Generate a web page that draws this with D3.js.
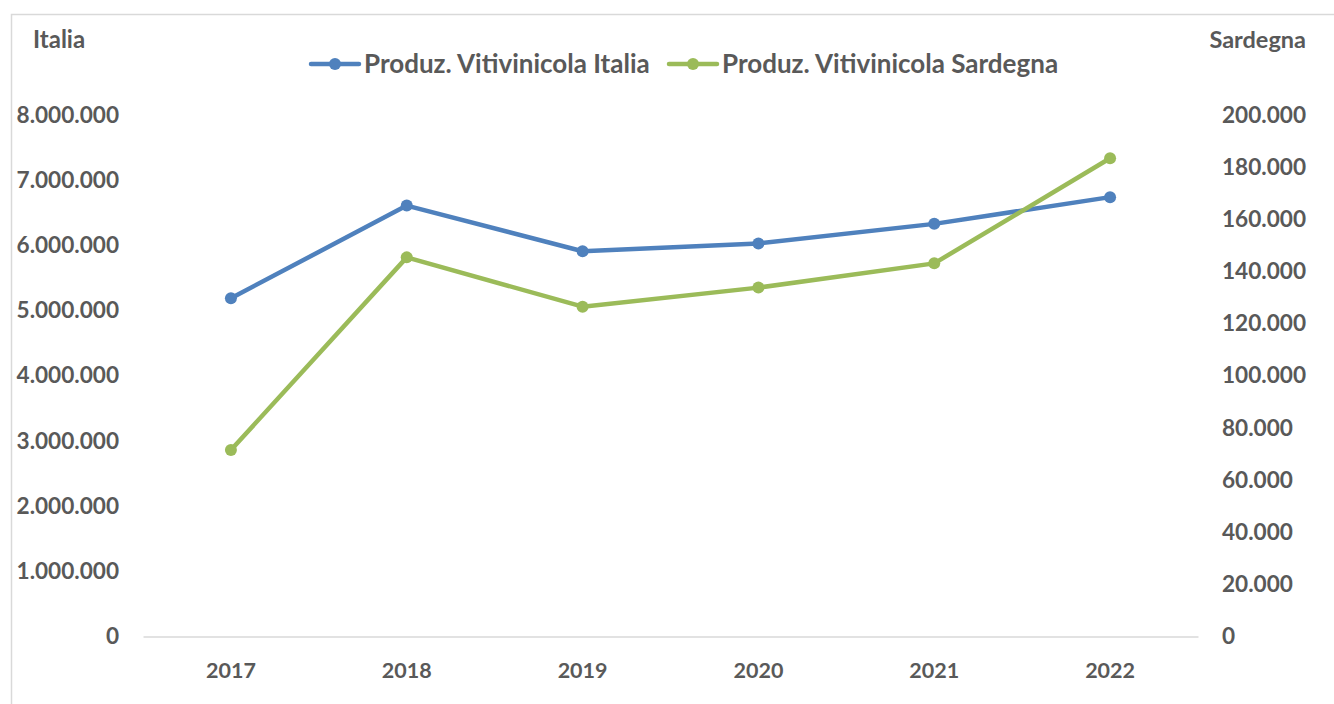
<!DOCTYPE html>
<html>
<head>
<meta charset="utf-8">
<script src="https://cdn.jsdelivr.net/npm/d3@7"></script>
<style>
  html, body { margin: 0; padding: 0; background: #fff; }
  svg { display: block; }
  text { font-family: Lato, "Open Sans", sans-serif; font-weight: bold; fill: #595959; }
</style>
</head>
<body>
<svg id="chart" width="1334" height="704"></svg>
<script>
// Production data by year
const years = ["2017", "2018", "2019", "2020", "2021", "2022"];
const italia = [5190000, 6610000, 5910000, 6030000, 6330000, 6740000];
const sardegna = [71500, 145400, 126500, 133800, 143100, 183400];
const leftTicks = [0, 1000000, 2000000, 3000000, 4000000, 5000000, 6000000, 7000000, 8000000];
const rightTicks = [0, 20000, 40000, 60000, 80000, 100000, 120000, 140000, 160000, 180000, 200000];
const seriesNames = ["Produz. Vitivinicola Italia", "Produz. Vitivinicola Sardegna"];
const colors = ["#4F81BD", "#9BBB59"];

const it = d3.formatLocale({ decimal: ",", thousands: ".", grouping: [3], currency: ["€", ""] });
const fmt = it.format(",d");

const svg = d3.select("#chart");

// chart area frame
svg.append("rect")
  .attr("x", 11.5).attr("y", 14.5)
  .attr("width", 1400).attr("height", 800)
  .attr("fill", "none").attr("stroke", "#d9d9d9").attr("stroke-width", 1.5);

const plot = { left: 143, right: 1198, top: 115, bottom: 636.5 };

const x = d3.scaleBand().domain(years).range([plot.left, plot.right]);
const yL = d3.scaleLinear().domain([0, 8000000]).range([plot.bottom, plot.top]);
const yR = d3.scaleLinear().domain([0, 200000]).range([plot.bottom, plot.top]);
const cx = d => x(d) + x.bandwidth() / 2;

function styleLabels(g, size) {
  g.selectAll("text").attr("font-size", size).attr("fill", "#595959")
    .style("font-family", "Lato").style("font-weight", "bold");
}

// category axis
const xAxis = svg.append("g")
  .attr("transform", `translate(0,${plot.bottom})`)
  .call(d3.axisBottom(x).tickSize(0).tickPadding(26));
xAxis.select(".domain").attr("stroke", "#d9d9d9").attr("stroke-width", 1.5);
styleLabels(xAxis, 21.5);

// left value axis (Italia)
const lAxis = svg.append("g")
  .attr("transform", "translate(119,0)")
  .call(d3.axisLeft(yL).tickValues(leftTicks).tickFormat(fmt).tickSize(0).tickPadding(0));
lAxis.select(".domain").remove();
styleLabels(lAxis, 22.6);

// right value axis (Sardegna)
const rAxis = svg.append("g")
  .attr("transform", "translate(1222,0)")
  .call(d3.axisRight(yR).tickValues(rightTicks).tickFormat(fmt).tickSize(0).tickPadding(0));
rAxis.select(".domain").remove();
styleLabels(rAxis, 22.6);

// axis titles
svg.append("text").attr("x", 33).attr("y", 48).attr("font-size", 24).text("Italia");
svg.append("text").attr("x", 1306).attr("y", 48).attr("font-size", 23.5)
  .attr("text-anchor", "end").text("Sardegna");

// series
const series = [
  { name: seriesNames[0], values: italia, scale: yL, color: colors[0] },
  { name: seriesNames[1], values: sardegna, scale: yR, color: colors[1] }
];

series.forEach(s => {
  const line = d3.line().x((d, i) => cx(years[i])).y(d => s.scale(d));
  svg.append("path")
    .datum(s.values)
    .attr("d", line)
    .attr("fill", "none")
    .attr("stroke", s.color)
    .attr("stroke-width", 4.5)
    .attr("stroke-linejoin", "round");
  svg.append("g").selectAll("circle")
    .data(s.values)
    .join("circle")
    .attr("cx", (d, i) => cx(years[i]))
    .attr("cy", d => s.scale(d))
    .attr("r", 6)
    .attr("fill", s.color);
});

// legend
const legendItems = [
  { x0: 311, name: seriesNames[0], color: colors[0] },
  { x0: 669, name: seriesNames[1], color: colors[1] }
];
const lg = svg.append("g").attr("transform", "translate(0,64)");
legendItems.forEach(it => {
  lg.append("line").attr("x1", it.x0).attr("x2", it.x0 + 48).attr("y1", 0).attr("y2", 0)
    .attr("stroke", it.color).attr("stroke-width", 4.5).attr("stroke-linecap", "round");
  lg.append("circle").attr("cx", it.x0 + 24).attr("cy", 0).attr("r", 6).attr("fill", it.color);
  lg.append("text").attr("x", it.x0 + 53).attr("y", 0).attr("dy", "0.36em")
    .attr("font-size", 26).text(it.name);
});
</script>
</body>
</html>
